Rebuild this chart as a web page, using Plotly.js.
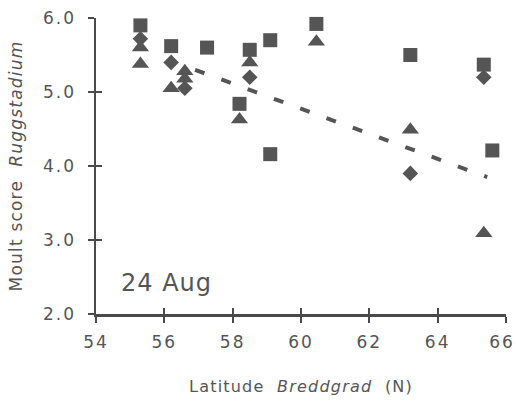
<!DOCTYPE html>
<html>
<head>
<meta charset="utf-8">
<script src="https://cdn.plot.ly/plotly-3.0.1.min.js"></script>
<style>
html, body { margin: 0; padding: 0; background: #fff; }
#chart { width: 516px; height: 401px; }
.xtick text, .ytick text { letter-spacing: 2px; }
.g-xtitle text, .g-ytitle text { letter-spacing: 1.2px; }
.annotation-text { letter-spacing: 1px; }
</style>
</head>
<body>
<div id="chart"></div>
<script>
// Latitude (N) and moult score values
const squareLat   = [55.3, 56.2, 57.25, 58.5, 59.1, 58.2, 59.1, 60.45, 63.2, 65.35, 65.6];
const squareScore = [5.90, 5.62, 5.60, 5.57, 5.70, 4.84, 4.16, 5.92, 5.50, 5.37, 4.21];

const diamondLat   = [55.3, 56.2, 56.6, 58.5, 63.2, 65.35];
const diamondScore = [5.72, 5.40, 5.05, 5.20, 3.90, 5.20];

const triangleLat   = [55.3, 55.3, 56.2, 56.6, 56.6, 58.5, 58.2, 60.45, 63.2, 65.35];
const triangleScore = [5.60, 5.38, 5.05, 5.28, 5.18, 5.40, 4.63, 5.68, 4.49, 3.09];

const trendLat   = [56.9, 65.45];
const trendScore = [5.30, 3.85];

const xTicks = [54, 56, 58, 60, 62, 64, 66];
const yTicks = [2, 3, 4, 5, 6];
const yTickText = ['2.0', '3.0', '4.0', '5.0', '6.0'];

const ink = '#555555';
const axisInk = '#4a4a4a';
const font = 'DejaVu Sans, Liberation Sans, Arial, sans-serif';

const traces = [
  {x: trendLat, y: trendScore, mode: 'lines', type: 'scatter',
   line: {color: ink, width: 4, dash: '10px,18px'}, hoverinfo: 'skip', cliponaxis: false},
  {x: squareLat, y: squareScore, mode: 'markers', type: 'scatter',
   marker: {symbol: 'square', size: 14, color: ink}, cliponaxis: false},
  {x: diamondLat, y: diamondScore, mode: 'markers', type: 'scatter',
   marker: {symbol: 'diamond', size: 12, color: ink}, cliponaxis: false},
  {x: triangleLat, y: triangleScore, mode: 'markers', type: 'scatter',
   marker: {symbol: 'triangle-up', size: 15, color: ink}, cliponaxis: false},
  // helper trace so the overlay axes exist (invisible)
  {x: [54], y: [2], xaxis: 'x2', yaxis: 'y2', mode: 'markers', marker: {opacity: 0}, hoverinfo: 'skip'}
];

const baseAxis = {
  showgrid: false, zeroline: false, fixedrange: true,
  showline: true, linecolor: axisInk, linewidth: 2.5,
  ticks: 'outside', ticklen: 6, tickwidth: 2, tickcolor: axisInk,
  ticklabeloverflow: 'allow',
  tickfont: {family: font, size: 17, color: ink}
};

const layout = {
  width: 516, height: 401,
  margin: {l: 96, r: 10, t: 18, b: 87},
  paper_bgcolor: '#fff', plot_bgcolor: '#fff',
  showlegend: false,
  xaxis: Object.assign({}, baseAxis, {
    range: [54, 66], tickvals: xTicks, ticktext: xTicks.map(String),
    ticklabelstandoff: 5,
    title: {text: 'Latitude  <i>Breddgrad</i>  (N)', standoff: 30,
            font: {family: font, size: 16, color: ink}}
  }),
  yaxis: Object.assign({}, baseAxis, {
    range: [2, 6], tickvals: yTicks, ticktext: yTickText,
    ticklabelstandoff: 8,
    title: {text: 'Moult score  <i>Ruggstadium</i>', standoff: 16,
            font: {family: font, size: 17, color: ink}}
  }),
  xaxis2: {overlaying: 'x', range: [54, 66], tickvals: xTicks, showticklabels: false,
           ticks: 'inside', ticklen: 6, tickwidth: 2, tickcolor: axisInk,
           showgrid: false, zeroline: false, showline: false, fixedrange: true, anchor: 'y'},
  yaxis2: {overlaying: 'y', range: [2, 6], tickvals: yTicks, showticklabels: false,
           ticks: 'inside', ticklen: 6, tickwidth: 2, tickcolor: axisInk,
           showgrid: false, zeroline: false, showline: false, fixedrange: true, anchor: 'x'},
  annotations: [{
    text: '24 Aug', x: 54.68, y: 2.42, xref: 'x', yref: 'y',
    xanchor: 'left', yanchor: 'middle', showarrow: false,
    font: {family: font, size: 24, color: ink}
  }]
};

Plotly.newPlot('chart', traces, layout, {staticPlot: true, displayModeBar: false}).then(function () {
  // keep the last x tick label inside the page edge, as in the reference
  document.querySelectorAll('.xtick text').forEach(function (t) {
    if (t.textContent === String(xTicks[xTicks.length - 1])) {
      const x0 = parseFloat(t.getAttribute('x') || '0');
      t.setAttribute('x', x0 - 4);
    }
  });
});
</script>
</body>
</html>
